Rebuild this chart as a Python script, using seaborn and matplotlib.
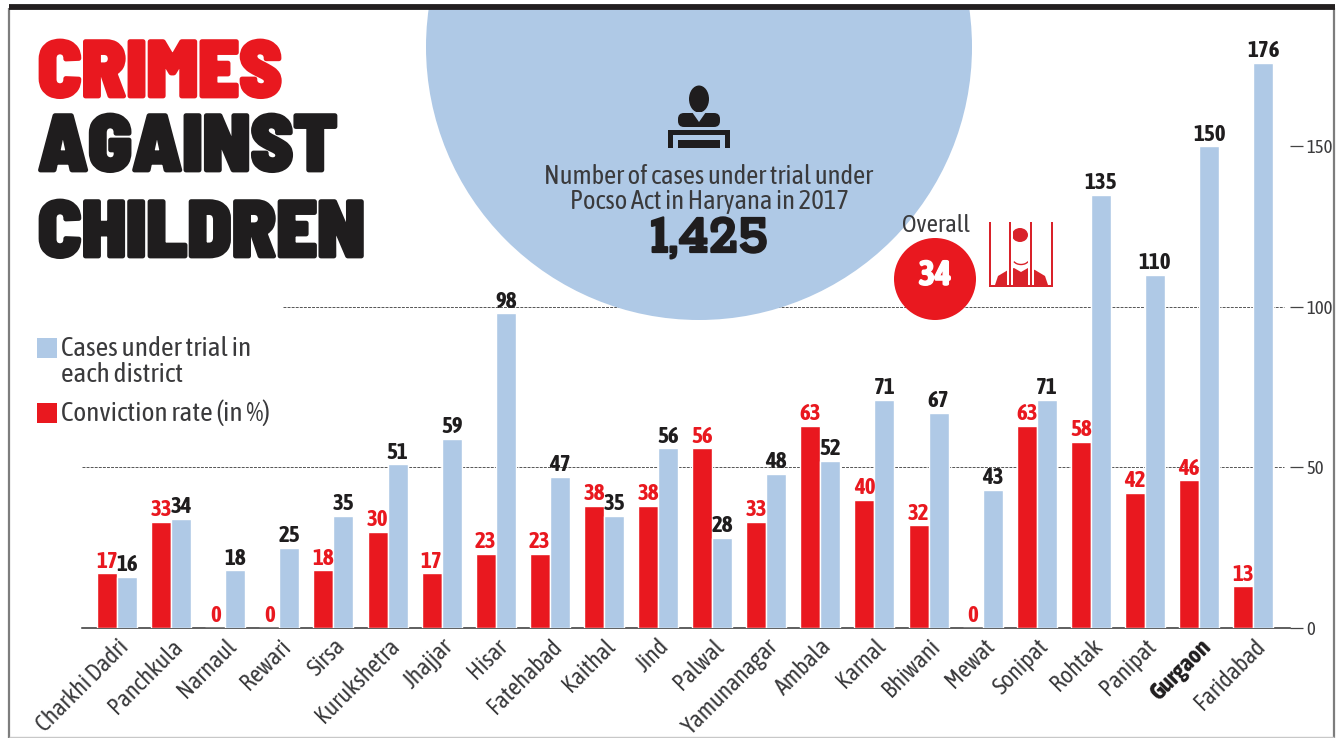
import matplotlib
matplotlib.use("Agg")
import logging
logging.getLogger("matplotlib.font_manager").setLevel(logging.ERROR)
import matplotlib.pyplot as plt
import matplotlib.patches as mp
import matplotlib.patheffects as pe
from matplotlib.transforms import Affine2D
import pandas as pd
import seaborn as sns

districts = ["Charkhi Dadri", "Panchkula", "Narnaul", "Rewari", "Sirsa", "Kurukshetra",
             "Jhajjar", "Hisar", "Fatehabad", "Kaithal", "Jind", "Palwal", "Yamunanagar",
             "Ambala", "Karnal", "Bhiwani", "Mewat", "Sonipat", "Rohtak", "Panipat",
             "Gurgaon", "Faridabad"]
conviction_rate = [17, 33, 0, 0, 18, 30, 17, 23, 23, 38, 38, 56, 33, 63, 40, 32, 0, 63, 58, 42, 46, 13]
cases_under_trial = [16, 34, 18, 25, 35, 51, 59, 98, 47, 35, 56, 28, 48, 52, 71, 67, 43, 71, 135, 110, 150, 176]
y_ticks = [0, 50, 100, 150]

RED = "#E9181F"
BLUE = "#AFC9E6"
INK = "#1F1D1E"
GREY = "#3A3A3C"

W, H = 1341, 738
sns.set_theme(style="white")
NARROW = ["Asap Condensed", "Barlow Condensed", "Roboto", "DejaVu Sans"]
SLAB = ["Rokkitt", "Roboto", "DejaVu Sans"]
HEAVY = ["Barlow Semi Condensed", "Asap Condensed", "Roboto", "DejaVu Sans"]
plt.rcParams["font.family"] = NARROW

df = pd.DataFrame({
    "district": districts * 2,
    "value": conviction_rate + cases_under_trial,
    "series": ["Conviction rate (in %)"] * len(districts) + ["Cases under trial"] * len(districts),
})

fig = plt.figure(figsize=(W / 100, H / 100), dpi=100, facecolor="white")
ax = fig.add_axes([82 / W, (H - 628) / H, (1290 - 82) / W, 618 / H])
ax.patch.set_alpha(0)
px = Affine2D().scale(1, -1).translate(0, H)  # page positions measured from the top left

sns.barplot(data=df, x="district", y="value", hue="series", order=districts,
            palette=[RED, BLUE], width=0.74, gap=0, saturation=1, legend=False,
            ax=ax, zorder=3)
ax.set_xlim(-0.647, 21.68)
ax.set_ylim(0, 192.5)
ax.set_xlabel("")
ax.set_ylabel("")

sns.despine(ax=ax, left=True, top=True, right=True)
ax.spines["bottom"].set_color("#333333")
ax.spines["bottom"].set_linewidth(1.1)
ax.yaxis.tick_right()
ax.set_yticks(y_ticks)
ax.tick_params(axis="y", length=9.5, width=0.9, color="#444444", pad=2,
               labelsize=13.5, labelcolor=GREY, right=True)
ax.tick_params(axis="x", length=0, pad=5)
ax.set_xticks(range(len(districts)))
ax.set_xticklabels(districts, rotation=45, ha="right", va="top", rotation_mode="anchor",
                   fontsize=17.2, color=GREY)
for lab in ax.get_xticklabels():
    if lab.get_text() == "Gurgaon":
        lab.set_fontweight("bold")
        lab.set_color(INK)

# dashed reference lines
yt = ax.get_yaxis_transform()
for val, x0 in ((50, 0.0), (100, (283 - 82) / (1290 - 82))):
    ax.plot([x0, (1284 - 82) / (1290 - 82)], [val, val], transform=yt, color="#555555",
            lw=0.7, ls=(0, (3, 1.2)), zorder=0.5, clip_on=False)

# value labels
ax.bar_label(ax.containers[0], padding=0.5, color=RED, fontsize=16.5, fontweight="bold")
ax.bar_label(ax.containers[1], padding=0.5, color=INK, fontsize=16.5, fontweight="bold")

# frame
for xs, ys, c, lw in (([9, 9], [8, 738], "#7D7D7D", 1.6),
                      ([1334, 1334], [8, 738], "#7D7D7D", 1.6),
                      ([9, 1335], [7, 7], "#231F20", 4.2),
                      ([9, 1334], [736.5, 736.5], "#C8C8C8", 1.0)):
    ax.plot(xs, ys, transform=px, color=c, lw=lw, clip_on=False, zorder=6,
            solid_capstyle="butt")

# big circle
ax.add_patch(mp.Circle((699, 47), 273, transform=px, fc=BLUE, ec="none", zorder=1, clip_on=False))
ax.add_patch(mp.Rectangle((0, 0), W, 6, transform=px, fc="white", ec="none", zorder=2, clip_on=False))

# title
for txt, y, col, fs in (("CRIMES", 97, RED, 58), ("AGAINST", 171, INK, 58), ("CHILDREN", 257, INK, 58)):
    ax.text(38, y, txt, transform=px, color=col, fontsize=fs, fontweight=900, ha="left",
            va="baseline", zorder=7, family=HEAVY,
            path_effects=[pe.withStroke(linewidth=2.0, foreground=col)])

# circle text
ax.text(709, 176, "Number of cases under trial under", transform=px, ha="center", va="center",
        fontsize=19.2, color=GREY, zorder=7)
ax.text(709, 202, "Pocso Act in Haryana in 2017", transform=px, ha="center", va="center",
        fontsize=19.2, color=GREY, zorder=7)
ax.text(709, 252, "1,425", transform=px, ha="center", va="baseline", fontsize=42,
        fontweight=900, color=INK, zorder=7, family=SLAB,
        path_effects=[pe.withStroke(linewidth=1.6, foreground=INK)])

# podium icon
ax.add_patch(mp.Ellipse((699, 99), 20, 27, transform=px, fc=INK, ec="none", zorder=7, clip_on=False))
ax.add_patch(mp.FancyBboxPatch((678, 113), 42, 14, boxstyle="round,pad=0,rounding_size=6", transform=px,
                               fc=INK, ec="none", zorder=7, clip_on=False))
ax.add_patch(mp.Polygon([(692, 112), (706, 112), (699, 122)], transform=px, fc=BLUE, ec="none",
                        zorder=7.1, clip_on=False))
ax.add_patch(mp.Rectangle((668, 130), 62, 5, transform=px, fc=INK, ec="none", zorder=7, clip_on=False))
ax.add_patch(mp.Rectangle((668, 130), 5, 18, transform=px, fc=INK, ec="none", zorder=7, clip_on=False))
ax.add_patch(mp.Rectangle((725, 130), 5, 18, transform=px, fc=INK, ec="none", zorder=7, clip_on=False))
ax.add_patch(mp.Rectangle((678, 140), 42, 8, transform=px, fc=INK, ec="none", zorder=7, clip_on=False))

# overall badge
ax.text(936, 226, "Overall", transform=px, ha="center", va="center", fontsize=17.8, color=GREY, zorder=7)
ax.add_patch(mp.Circle((935, 279), 41, transform=px, fc=RED, ec="none", zorder=5, clip_on=False))
ax.text(935, 275, "34", transform=px, ha="center", va="center", fontsize=25, fontweight="bold",
        color="white", zorder=7, path_effects=[pe.withStroke(linewidth=1.0, foreground="white")])

# prison icon
ICON = "#D9222A"
ax.add_patch(mp.Ellipse((1020, 235), 16, 14, transform=px, fc=ICON, ec="none", zorder=5, clip_on=False))
ax.add_patch(mp.Polygon([(995, 285), (998, 276), (1008, 270), (1014, 268), (1021, 272), (1028, 268),
                         (1035, 270), (1045, 276), (1048, 285)], transform=px, fc=ICON, ec="none",
                        zorder=5, clip_on=False))
ax.add_patch(mp.Arc((1021, 259), 16, 11, theta1=20, theta2=160, transform=px, color=ICON, lw=1,
                    zorder=5, clip_on=False))
for bx in (1010, 1031):
    ax.add_patch(mp.Rectangle((bx - 3, 228), 6, 58, transform=px, fc="white", ec="none",
                              zorder=5.15, clip_on=False))
for bx in (990, 1010, 1031, 1052):
    ax.add_patch(mp.Rectangle((bx - 1.3, 222), 2.6, 65, transform=px, fc=ICON, ec="none",
                              zorder=5.2, clip_on=False))
ax.add_patch(mp.Rectangle((989, 285), 64, 2, transform=px, fc=ICON, ec="none", zorder=5.2, clip_on=False))

# legend
ax.add_patch(mp.Rectangle((37, 338), 20, 20, transform=px, fc=BLUE, ec="none", zorder=7, clip_on=False))
ax.add_patch(mp.Rectangle((37, 403), 20, 20, transform=px, fc=RED, ec="none", zorder=7, clip_on=False))
ax.text(61, 348, "Cases under trial in", transform=px, va="center", ha="left", fontsize=19.7, color=GREY, zorder=7)
ax.text(61, 374, "each district", transform=px, va="center", ha="left", fontsize=19.7, color=GREY, zorder=7)
ax.text(61, 413, "Conviction rate (in %)", transform=px, va="center", ha="left", fontsize=19.7, color=GREY, zorder=7)

fig.savefig("out.png", dpi=100, facecolor="white")
